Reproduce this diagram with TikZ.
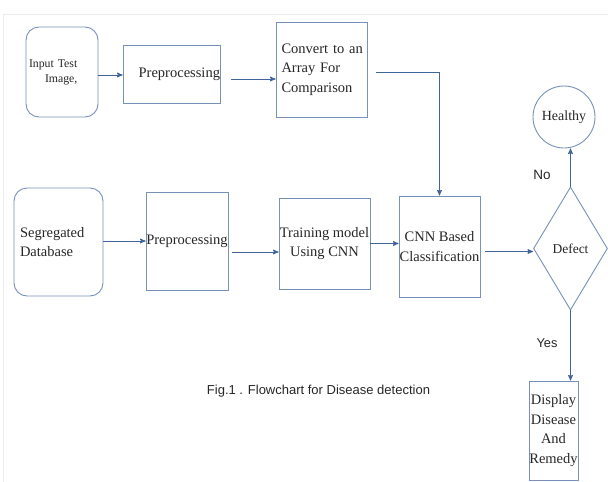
\documentclass[tikz,border=0pt]{standalone}
\usepackage{fontspec}
\setmainfont{Liberation Serif}
\newfontfamily\capfont{Liberation Sans}
\usepackage{tikz}
\usetikzlibrary{positioning,shapes.geometric,arrows}
\definecolor{boxline}{RGB}{120,145,182}
\definecolor{flowblue}{RGB}{65,100,155}
\definecolor{inkgray}{RGB}{38,38,38}
\definecolor{framegray}{RGB}{236,236,236}

\begin{document}
\begin{tikzpicture}[%
	x=1pt, y=-1pt,
	>=stealth',
	procbox/.style={draw=boxline, line width=0.9pt, rectangle, inner sep=0pt,
		align=center, text=inkgray, font=\fontsize{14.5}{19.5}\selectfont},
	roundbox/.style={procbox, rounded corners=13pt},
	flow/.style={->, draw=flowblue, line width=1pt},
	answer/.style={text=inkgray, font=\capfont\fontsize{13.5}{16}\selectfont}
	]
	\useasboundingbox (0,0) rectangle (608,482);
	\draw[framegray, line width=0.8pt] (3,482) -- (3,14) -- (608,14);
	
	% upper row
	\node[roundbox, minimum height=90, text width=66, inner xsep=3pt, align=left,
		font=\fontsize{11.8}{15}\selectfont] (input) at (62,72) {Input~Test\\\hspace*{16pt}Image,};
	\node[procbox, minimum height=58, text width=97, align=right] (pre1) at (171.5,74) {Preprocessing};
	\node[procbox, minimum height=95, text width=80, inner xsep=5.5pt, align=left] (conv) at (321.5,69.5) {Convert~to~an\\Array~For\\Comparison};
	
	% lower row
	\node[roundbox, minimum height=108, text width=77, inner xsep=6pt, align=left] (seg) at (58.5,242) {Segregated\\Database};
	\node[procbox, minimum width=82, minimum height=98] (pre2) at (187,241) {Preprocessing};
	\node[procbox, minimum width=91, minimum height=91] (train) at (324.5,243.5) {Training~model\\Using~CNN};
	\node[procbox, minimum width=81, minimum height=101] (cnn) at (439.5,246.5) {CNN~Based\\Classification};
	
	% decision
	\node[procbox, diamond, minimum width=74, minimum height=123, font=\fontsize{13.5}{16}\selectfont] (defect) at (570.5,248.5) {Defect};
	\node[procbox, circle, minimum size=62, font=\fontsize{14}{16}\selectfont] (healthy) at (564,117) {Healthy};
	\node[procbox, minimum width=49, minimum height=99] (display) at (553.5,430.5) {Display\\Disease\\And\\Remedy};
	
	\node[answer] (no) at (542,175) {No};
	\node[answer, font=\capfont\fontsize{12.8}{15}\selectfont] (yes) at (547,343) {Yes};
	\node[text=inkgray, font=\capfont\fontsize{13}{16}\selectfont] (caption) at (318.5,391) {Fig.1 . Flowchart for Disease detection};
	
	\draw[flow] ([yshift=-3]input.east) -- ([yshift=-3]input.east -| pre1.west);
	\draw[flow, shorten <=11pt] ([yshift=-5]pre1.east) -- ([yshift=-5]pre1.east -| conv.west);
	\draw[flow, shorten <=9pt] ([yshift=-2.5]conv.east) -| (cnn.north);
	\draw[flow] (seg.east |- pre2.west) -- (pre2.west);
	\draw[flow, shorten <=4pt] ([yshift=-11]pre2.east) -- ([yshift=-11]pre2.east -| train.west);
	\draw[flow] (train.east) -- (train.east -| cnn.west);
	\draw[flow, shorten <=5pt] ([yshift=-5]cnn.east) -- ([yshift=-5]cnn.east -| defect.west);
	\draw[flow] (defect.north) -- (defect.north |- healthy.south);
	\draw[flow] (defect.south) -- (defect.south |- display.north);
\end{tikzpicture}
\end{document}
